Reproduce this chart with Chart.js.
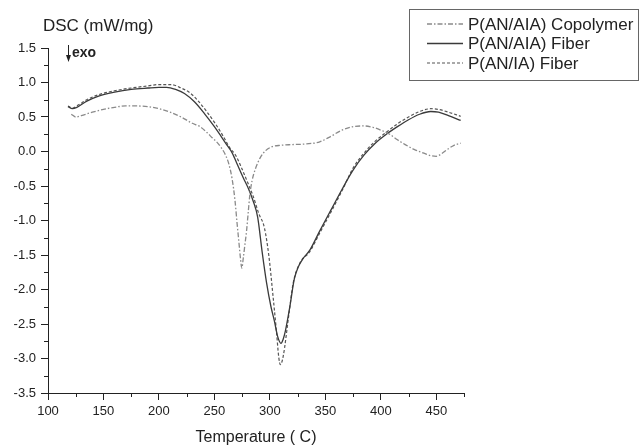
<!DOCTYPE html>
<html>
<head>
<meta charset="utf-8">
<script src="https://cdn.jsdelivr.net/npm/chart.js@4.4.0/dist/chart.umd.min.js"></script>
<style>
  html, body { margin: 0; padding: 0; background: #fff; }
  #wrap { width: 640px; height: 447px; }
</style>
</head>
<body>
<div id="wrap"><canvas id="myChart" width="640" height="447"></canvas></div>
<script>
// values: temperature (C) -> heat flow (mW/mg)
const copolymerTemp = [121, 125, 130, 140, 150, 160, 170, 180, 190, 200, 210, 220, 230, 237, 243, 248, 252, 256, 260, 263, 266, 268.5, 270.5, 272, 273.5, 274.7, 276, 277.5, 279, 280.5, 282, 284, 287, 291, 296, 302, 310, 320, 333, 345, 355, 365, 375, 385, 393, 400, 408, 415, 422, 430, 438, 445, 450, 455, 460, 466, 472];
const copolymerDsc = [0.54, 0.50, 0.52, 0.57, 0.61, 0.64, 0.66, 0.66, 0.65, 0.62, 0.57, 0.50, 0.41, 0.36, 0.28, 0.20, 0.14, 0.06, -0.05, -0.18, -0.40, -0.70, -1.05, -1.30, -1.55, -1.69, -1.55, -1.35, -1.15, -0.88, -0.62, -0.42, -0.25, -0.10, 0.01, 0.07, 0.09, 0.10, 0.11, 0.14, 0.22, 0.31, 0.36, 0.37, 0.35, 0.31, 0.25, 0.17, 0.10, 0.03, -0.02, -0.06, -0.07, -0.03, 0.03, 0.09, 0.12];

const aiaFiberTemp = [118, 122, 126, 135, 145, 160, 175, 190, 200, 207, 215, 223, 232, 241, 250, 256, 261, 266, 271, 276, 281, 285, 289, 293, 297, 301, 304, 307, 310, 312, 314, 318, 322, 326, 330, 336, 345, 355, 365, 375, 385, 395, 405, 415, 425, 435, 445, 452, 461, 472];
const aiaFiberDsc = [0.65, 0.62, 0.64, 0.73, 0.80, 0.86, 0.90, 0.92, 0.93, 0.93, 0.90, 0.84, 0.72, 0.55, 0.36, 0.22, 0.10, -0.02, -0.20, -0.38, -0.55, -0.72, -0.95, -1.45, -1.90, -2.25, -2.45, -2.68, -2.78, -2.72, -2.60, -2.25, -1.85, -1.66, -1.55, -1.43, -1.15, -0.85, -0.55, -0.27, -0.05, 0.12, 0.25, 0.36, 0.46, 0.54, 0.58, 0.57, 0.52, 0.45];

const iaFiberTemp = [118, 122, 126, 135, 145, 160, 175, 190, 200, 211, 220, 228, 235, 243, 251, 258, 264, 269, 274, 280, 285, 290, 295, 299, 303, 306, 308, 309.5, 312, 317, 321, 327, 336, 345, 355, 365, 375, 385, 395, 405, 415, 425, 435, 445, 452, 461, 472];
const iaFiberDsc = [0.66, 0.63, 0.66, 0.75, 0.82, 0.88, 0.92, 0.95, 0.97, 0.97, 0.92, 0.85, 0.74, 0.58, 0.40, 0.22, 0.05, -0.05, -0.22, -0.45, -0.65, -0.90, -1.10, -1.50, -2.12, -2.62, -2.98, -3.09, -2.97, -2.38, -1.91, -1.62, -1.45, -1.18, -0.88, -0.57, -0.24, -0.02, 0.15, 0.28, 0.40, 0.50, 0.58, 0.62, 0.61, 0.57, 0.51];

const seriesNames = ['P(AN/AIA) Copolymer', 'P(AN/AIA) Fiber', 'P(AN/IA) Fiber'];
const xTicks = [100, 150, 200, 250, 300, 350, 400, 450];
const xMinor = [125, 175, 225, 275, 325, 375, 425, 475];
const yTicks = [1.5, 1.0, 0.5, 0.0, -0.5, -1.0, -1.5, -2.0, -2.5, -3.0, -3.5];
const yMinor = [1.25, 0.75, 0.25, -0.25, -0.75, -1.25, -1.75, -2.25, -2.75, -3.25];
const yTitle = 'DSC (mW/mg)';
const xTitle = 'Temperature ( C)';
const exoLabel = 'exo';

const FONT = "'Liberation Sans', Arial, sans-serif";
const INK = '#222';

function toPoints(temps, vals) {
  return temps.map((t, i) => ({ x: t, y: vals[i] }));
}

const decorations = {
  id: 'decorations',
  afterDraw(chart) {
    const { ctx, scales: { x, y } } = chart;
    ctx.save();

    // minor ticks, shorter than the major ones
    ctx.strokeStyle = INK;
    ctx.lineWidth = 1;
    ctx.beginPath();
    xMinor.forEach((v) => {
      const px = Math.round(x.getPixelForValue(v)) + 0.5;
      ctx.moveTo(px, x.top);
      ctx.lineTo(px, x.top + 4);
    });
    yMinor.forEach((v) => {
      const py = Math.round(y.getPixelForValue(v)) + 0.5;
      ctx.moveTo(y.right, py);
      ctx.lineTo(y.right - 4, py);
    });
    ctx.stroke();

    // y title sits above the axis
    ctx.fillStyle = INK;
    ctx.font = `17px ${FONT}`;
    ctx.textAlign = 'left';
    ctx.textBaseline = 'alphabetic';
    ctx.fillText(yTitle, 43, 31);

    // exo arrow
    ctx.beginPath();
    ctx.moveTo(68.5, 45);
    ctx.lineTo(68.5, 57);
    ctx.stroke();
    ctx.beginPath();
    ctx.moveTo(66, 55);
    ctx.lineTo(71, 55);
    ctx.lineTo(68.5, 62);
    ctx.closePath();
    ctx.fill();
    ctx.font = `bold 14px ${FONT}`;
    ctx.fillText(exoLabel, 72, 57);

    // legend box
    ctx.strokeStyle = '#666';
    ctx.strokeRect(409.5, 9.5, 229, 71);
    ctx.font = `17px ${FONT}`;
    ctx.textBaseline = 'middle';
    chart.data.datasets.forEach((ds, i) => {
      const ly = 24 + i * 19.5;
      ctx.save();
      ctx.strokeStyle = ds.borderColor;
      ctx.lineWidth = ds.borderWidth;
      ctx.setLineDash(ds.borderDash || []);
      ctx.beginPath();
      ctx.moveTo(427, ly);
      ctx.lineTo(463, ly);
      ctx.stroke();
      ctx.restore();
      ctx.fillStyle = INK;
      ctx.fillText(ds.label, 468, ly + 1);
    });
    ctx.restore();
  },
};

const ctx = document.getElementById('myChart').getContext('2d');
const chart = new Chart(ctx, {
  type: 'line',
  data: {
    datasets: [
      {
        label: seriesNames[0],
        data: toPoints(copolymerTemp, copolymerDsc),
        borderColor: '#8a8a8a',
        borderWidth: 1.3,
        borderDash: [5, 2, 1.5, 2],
      },
      {
        label: seriesNames[1],
        data: toPoints(aiaFiberTemp, aiaFiberDsc),
        borderColor: '#3a3a3a',
        borderWidth: 1.3,
      },
      {
        label: seriesNames[2],
        data: toPoints(iaFiberTemp, iaFiberDsc),
        borderColor: '#555',
        borderWidth: 1.2,
        borderDash: [3, 2],
      },
    ],
  },
  options: {
    responsive: false,
    animation: false,
    devicePixelRatio: 1,
    layout: { padding: { top: 48, right: 176, left: 0, bottom: 0 } },
    elements: {
      point: { radius: 0 },
      line: { cubicInterpolationMode: 'monotone', fill: false },
    },
    plugins: {
      legend: { display: false },
      tooltip: { enabled: false },
    },
    scales: {
      x: {
        type: 'linear',
        min: 100,
        max: 475,
        afterBuildTicks: (scale) => { scale.ticks = xTicks.map((v) => ({ value: v })); },
        afterFit: (scale) => { scale.height = 54; },
        border: { display: true, color: INK, width: 1 },
        grid: { drawOnChartArea: false, color: INK, tickLength: 7 },
        ticks: {
          autoSkip: false,
          maxRotation: 0,
          padding: 4,
          color: INK,
          font: { family: FONT, size: 13 },
        },
        title: {
          display: true,
          text: xTitle,
          color: INK,
          font: { family: FONT, size: 16 },
          padding: { top: 2, bottom: 0 },
        },
      },
      y: {
        type: 'linear',
        min: -3.5,
        max: 1.5,
        afterBuildTicks: (scale) => { scale.ticks = yTicks.map((v) => ({ value: v })); },
        afterFit: (scale) => { scale.width = 48; },
        border: { display: true, color: INK, width: 1 },
        grid: { drawOnChartArea: false, color: INK, tickLength: 7 },
        ticks: {
          autoSkip: false,
          padding: 5,
          color: INK,
          font: { family: FONT, size: 13 },
          callback: (v) => Number(v).toFixed(1),
        },
      },
    },
  },
  plugins: [decorations],
});
</script>
</body>
</html>
